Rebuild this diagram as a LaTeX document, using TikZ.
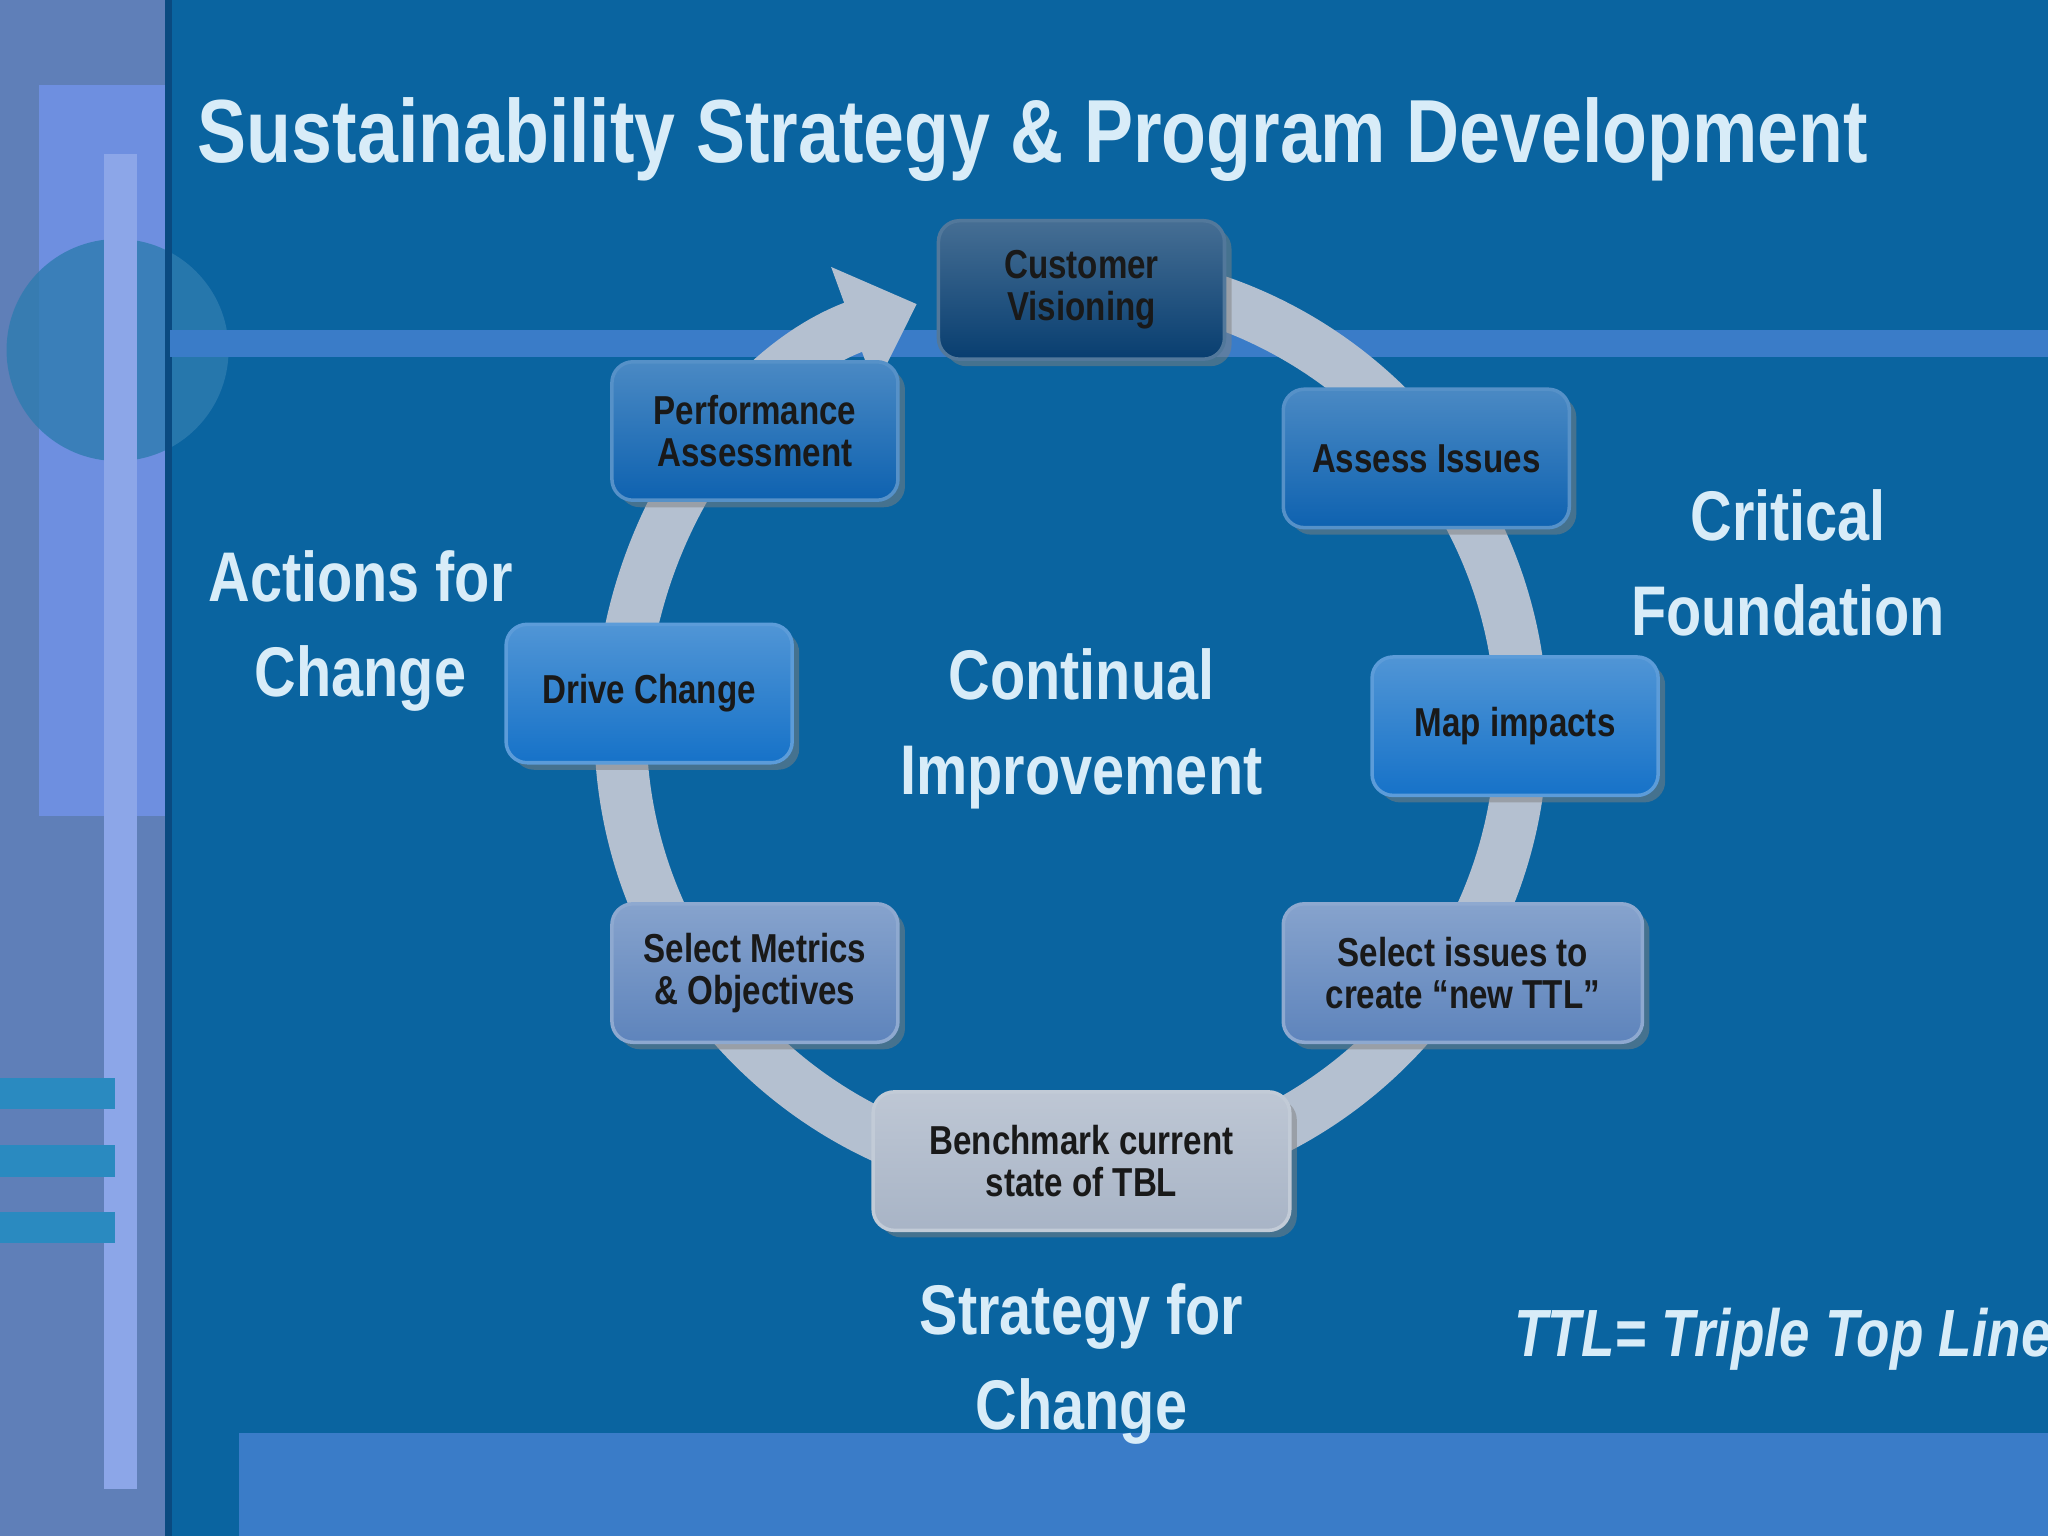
\documentclass[tikz,border=0pt]{standalone}
\usepackage{fontspec}
\setmainfont{Liberation Sans}[FakeStretch=0.82]
\usetikzlibrary{arrows.meta,shadows}
\definecolor{bg}{HTML}{0A64A0}
\definecolor{band}{HTML}{3A7CC8}
\definecolor{ltxt}{HTML}{D8ECF8}
\definecolor{ring}{HTML}{B4C0D0}
\definecolor{stripA}{HTML}{5F7FB8}
\definecolor{stripB}{HTML}{6E8FE0}
\definecolor{stripC}{HTML}{2E7CB0}
\definecolor{stripD}{HTML}{8CA6E8}
\definecolor{stripE}{HTML}{2A8AC0}
\definecolor{edge}{HTML}{0A4A80}
\definecolor{cA}{HTML}{083E70}
\definecolor{cB}{HTML}{0E62B0}
\definecolor{cC}{HTML}{1672C8}
\definecolor{cD}{HTML}{5E84BC}
\definecolor{cE}{HTML}{A8B4C6}
\tikzset{
 box/.style={rounded corners=6pt,minimum width=219*0.01306cm,minimum height=106*0.01306cm,align=center,
  font=\bfseries\fontsize{11.5}{12}\selectfont,text=black!90,drop shadow={opacity=0.5,shadow xshift=2pt,shadow yshift=-2pt},draw=#1!70!white,line width=1pt,top color=#1!75!white,bottom color=#1},
 lbl/.style={align=center,text=ltxt,font=\bfseries\fontsize{20}{27}\selectfont}
}
\begin{document}
\begin{tikzpicture}[x=0.01306cm,y=0.01306cm]
\useasboundingbox (0,0) rectangle (1568,1176);
\fill[bg] (0,0) rectangle (1568,1176);
% left strip
\fill[stripA] (0,0) rectangle (130,1176);
\fill[stripB] (30,551) rectangle (130,1111);
\fill[stripC,opacity=0.8] (90,908) circle (85);
\fill[stripD] (80,36) rectangle (105,1058);
\foreach \y in {825,877,928} \fill[stripE] (0,1176-\y) rectangle (88,1176-\y-24);
\fill[edge] (126,0) rectangle (132,1176);
% bands
\fill[band] (130,903) rectangle (1568,923);
\fill[band] (183,0) rectangle (1568,79);
% title
\node[text=ltxt,font=\bfseries\fontsize{25.5}{30}\selectfont,anchor=west] (title) at (142,1069) {Sustainability Strategy \& Program Development};
% ring
\draw[ring,line width=40*0.01306cm,-{Triangle[width=95*0.01306cm,length=52*0.01306cm]}] (820,619) ++(90:345) arc (90:-250:345);
% boxes
\node[box=cA] (cv) at (828,954) {Customer\\Visioning};
\node[box=cB] (pa) at (578,846) {Performance\\Assessment};
\node[box=cB] (ai) at (1092,825) {Assess Issues};
\node[box=cC] (dc) at (497,645) {Drive Change};
\node[box=cC] (mi) at (1160,620) {Map impacts};
\node[box=cD] (sm) at (578,431) {Select Metrics\\\& Objectives};
\node[box=cD,minimum width=275*0.01306cm] (si) at (1120,431) {Select issues to\\create “new TTL”};
\node[box=cE,minimum width=319*0.01306cm] (bm) at (828,287) {Benchmark current\\state of TBL};
% labels
\node[lbl] (afc) at (276,693) {Actions for\\Change};
\node[lbl] (cf) at (1369,745) {Critical\\Foundation};
\node[lbl] (ci) at (828,618) {Continual\\Improvement};
\node[lbl] (sfc) at (828,132) {Strategy for\\Change};
\node[text=ltxt,font=\bfseries\itshape\fontsize{19}{22}\selectfont,anchor=west] (ttl) at (1150,151) {TTL= Triple Top Line};
\end{tikzpicture}
\end{document}
